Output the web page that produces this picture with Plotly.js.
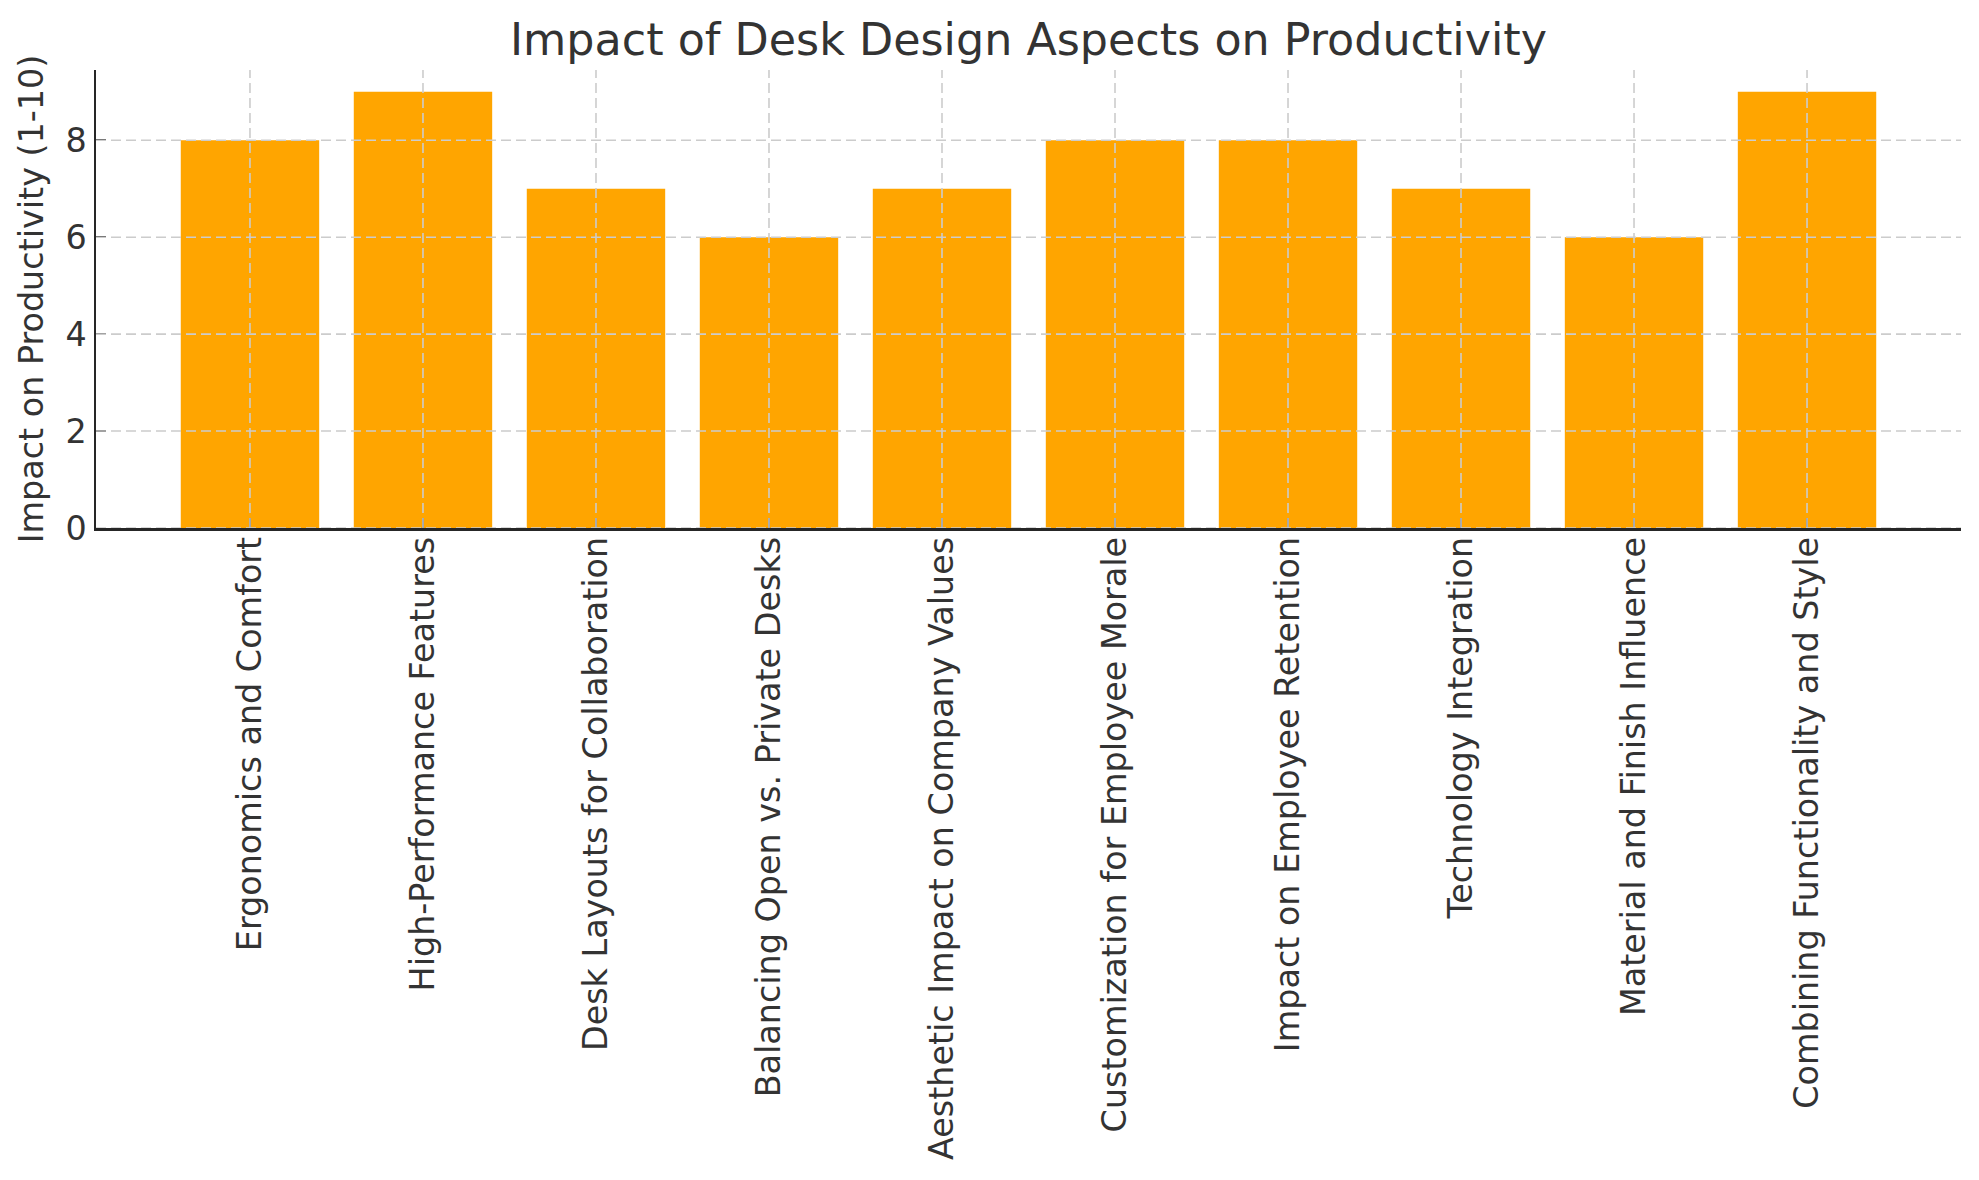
<!DOCTYPE html>
<html>
<head>
<meta charset="utf-8">
<script src="https://cdn.plot.ly/plotly-3.0.1.min.js"></script>
<style>html,body{margin:0;padding:0;background:#fff;}#chart{width:1979px;height:1180px;}</style>
</head>
<body>
<div id="chart"></div>
<script>
const categories = [
  "Ergonomics and Comfort",
  "High-Performance Features",
  "Desk Layouts for Collaboration",
  "Balancing Open vs. Private Desks",
  "Aesthetic Impact on Company Values",
  "Customization for Employee Morale",
  "Impact on Employee Retention",
  "Technology Integration",
  "Material and Finish Influence",
  "Combining Functionality and Style"
];
const impactValues = [8, 9, 7, 6, 7, 8, 8, 7, 6, 9];
const yTickValues = [0, 2, 4, 6, 8];
const yTickLabels = ["0", "2", "4", "6", "8"];

const FONT = "DejaVu Sans, sans-serif";
const TEXT = "#333333";
const AXIS = "#262626";
const GRID = "#cccccc";

const gridShapes = [];
yTickValues.forEach(v => gridShapes.push({
  type: "line", layer: "above", xref: "paper", yref: "y",
  x0: 0, x1: 1, y0: v, y1: v,
  line: {color: GRID, width: 1.6, dash: "10px,5px"}
}));
categories.forEach(c => gridShapes.push({
  type: "line", layer: "above", xref: "x", yref: "paper",
  x0: c, x1: c, y0: 0, y1: 1,
  line: {color: GRID, width: 1.6, dash: "10px,5px"}
}));

const data = [{
  type: "bar",
  x: categories,
  y: impactValues,
  marker: {color: "#FFA500", line: {width: 0}},
  width: 0.8,
  hoverinfo: "x+y"
}];

const layout = {
  width: 1979, height: 1180,
  paper_bgcolor: "#ffffff", plot_bgcolor: "#ffffff",
  margin: {l: 96, r: 18, t: 70, b: 652},
  font: {family: FONT, color: TEXT, size: 33.4},
  showlegend: false,
  title: {
    text: "Impact of Desk Design Aspects on Productivity",
    font: {family: FONT, size: 44.4, color: TEXT},
    x: 0.5, xref: "paper", xanchor: "center",
    y: 1 - 55 / 1180, yref: "container", yanchor: "bottom"
  },
  xaxis: {
    type: "category",
    range: [-0.89, 9.89],
    tickangle: -90,
    ticks: "inside", ticklen: 10, tickwidth: 2, tickcolor: AXIS,
    showline: true, linecolor: AXIS, linewidth: 2.5,
    showgrid: false, zeroline: false,
    tickfont: {family: FONT, size: 33.4, color: TEXT},
    automargin: false,
    ticklabelstandoff: -7
  },
  yaxis: {
    range: [0, 9.45],
    tickmode: "array", tickvals: yTickValues, ticktext: yTickLabels,
    ticks: "inside", ticklen: 10, tickwidth: 2, tickcolor: AXIS,
    showline: true, linecolor: AXIS, linewidth: 2.5,
    showgrid: false, zeroline: false,
    tickfont: {family: FONT, size: 33.4, color: TEXT},
    automargin: "top",
    ticklabelstandoff: 0,
    title: {text: "Impact on Productivity (1-10)", font: {family: FONT, size: 33.4, color: TEXT}, standoff: 12}
  },
  shapes: gridShapes
};

Plotly.newPlot("chart", data, layout, {displayModeBar: false, staticPlot: true});
</script>
</body>
</html>
